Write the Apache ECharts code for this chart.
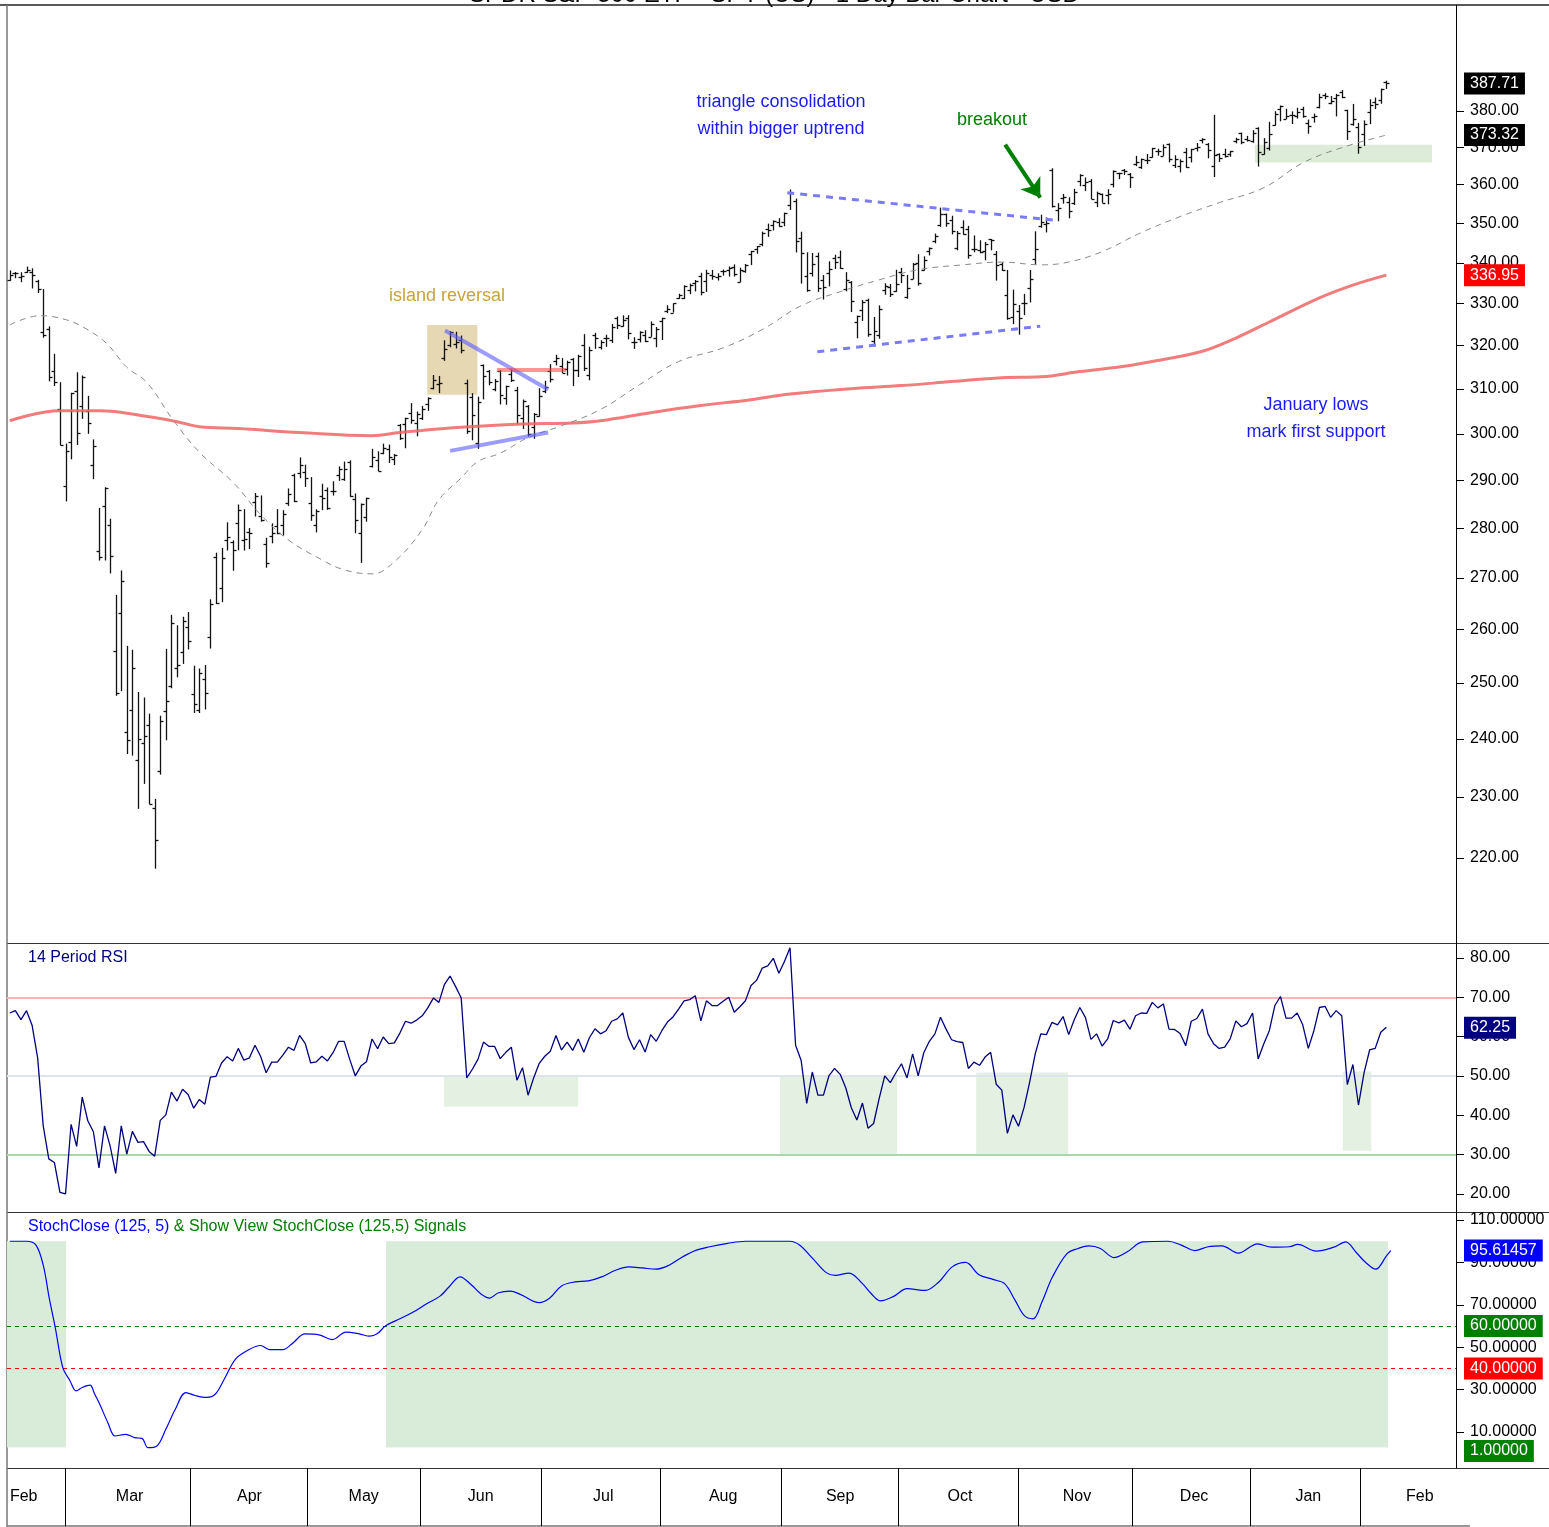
<!DOCTYPE html>
<html>
<head>
<meta charset="utf-8">
<title>SPY 1 Day Bar Chart</title>
<script src="https://cdn.jsdelivr.net/npm/echarts@6/dist/echarts.min.js"></script>
<style>
  html, body { margin: 0; padding: 0; background: #fff; }
  #main { width: 1549px; height: 1527px; }
</style>
</head>
<body>
<div id="main"></div>
<script>
/* daily bars, [open, high, low, close] */
var feb20 = [
  [335.86, 338.12, 335.56, 337.06], [337.51, 337.73, 336.20, 337.60], [336.51, 337.67, 335.21, 336.73],
  [337.79, 339.08, 337.48, 338.34], [337.74, 338.64, 333.68, 336.95], [335.47, 335.81, 332.58, 333.48],
  [323.14, 333.56, 321.87, 322.42], [323.94, 324.56, 311.75, 312.65], [314.18, 318.11, 310.70, 311.50],
  [305.46, 311.56, 297.51, 297.51], [288.70, 297.89, 285.54, 296.26]
];
var mar20 = [
  [298.21, 309.16, 294.46, 309.09], [309.50, 313.84, 297.57, 300.24], [306.12, 313.10, 303.33, 312.86],
  [304.98, 308.47, 300.01, 302.46], [293.15, 298.80, 290.23, 297.46], [275.30, 284.19, 273.45, 274.23],
  [284.64, 288.52, 273.46, 288.42], [280.70, 281.94, 270.88, 274.36], [255.94, 266.66, 247.68, 248.11],
  [263.09, 271.48, 248.52, 269.32], [241.18, 256.90, 237.36, 239.85], [245.04, 256.17, 237.07, 252.80],
  [236.25, 248.37, 228.02, 240.00], [239.25, 247.38, 232.22, 240.51], [242.53, 244.47, 228.80, 228.80],
  [228.19, 229.68, 218.26, 222.95], [234.42, 244.10, 233.80, 243.15], [244.87, 256.35, 239.75, 246.79],
  [249.52, 262.80, 249.05, 261.20], [252.75, 260.81, 251.05, 253.42], [255.70, 262.43, 253.53, 261.65],
  [260.56, 263.33, 256.22, 257.75]
];
var apr20 = [
  [247.98, 253.20, 244.59, 246.15], [245.19, 252.68, 244.59, 251.83], [250.76, 253.32, 245.22, 248.19],
  [258.50, 265.80, 256.40, 264.86], [274.21, 275.03, 264.89, 265.13], [267.96, 276.00, 265.25, 274.03],
  [277.58, 281.20, 275.47, 278.20], [277.14, 277.51, 271.41, 275.66], [280.98, 284.90, 275.51, 283.79],
  [277.57, 283.94, 275.46, 277.76], [279.15, 280.03, 275.76, 279.10], [285.38, 287.30, 282.40, 286.64],
  [282.61, 286.79, 281.35, 281.59], [276.73, 278.04, 272.02, 273.04], [278.35, 281.00, 276.91, 279.10],
  [280.49, 283.94, 278.75, 279.08], [280.73, 283.70, 278.50, 282.97], [285.12, 288.27, 284.62, 287.05],
  [291.02, 291.40, 285.40, 285.73], [291.53, 294.88, 290.41, 293.21], [291.71, 293.32, 288.59, 290.48]
];
var may20 = [
  [285.31, 290.66, 281.52, 282.79], [280.74, 283.90, 279.13, 283.57], [286.64, 289.25, 283.71, 286.19],
  [288.04, 288.46, 283.78, 284.25], [287.75, 289.78, 286.76, 287.68], [291.09, 292.95, 289.86, 292.44],
  [290.34, 294.00, 289.88, 292.50], [293.79, 294.24, 286.52, 286.67], [286.06, 287.19, 278.97, 281.60],
  [278.95, 285.11, 272.99, 285.00], [282.37, 286.33, 281.34, 286.28], [293.05, 296.75, 292.70, 295.00],
  [294.35, 296.21, 291.95, 291.97], [295.82, 297.87, 295.57, 296.93], [296.79, 297.67, 293.69, 294.88],
  [294.57, 295.63, 293.23, 295.44], [301.93, 302.19, 298.69, 299.08], [302.12, 303.57, 296.87, 303.53],
  [304.65, 306.84, 302.24, 302.97], [302.46, 304.96, 299.47, 304.32]
];
var jun20 = [
  [303.62, 306.21, 303.06, 305.55], [306.55, 308.13, 305.10, 308.08], [310.24, 313.22, 309.94, 312.18],
  [311.11, 313.00, 309.08, 311.36], [317.23, 321.27, 316.47, 319.34], [320.22, 323.41, 319.63, 323.20],
  [320.30, 323.28, 319.36, 320.79], [321.42, 322.39, 318.22, 319.00], [311.46, 312.15, 300.01, 300.61],
  [308.24, 309.08, 298.60, 304.21], [298.02, 308.28, 296.74, 307.05], [315.48, 315.64, 307.67, 312.96],
  [314.07, 314.39, 310.86, 311.66], [310.01, 312.30, 309.51, 311.78], [314.17, 314.38, 306.53, 308.64],
  [307.99, 310.79, 306.46, 310.62], [313.49, 314.50, 311.61, 312.05], [309.84, 310.51, 302.10, 304.09],
  [303.47, 307.64, 301.09, 307.35], [306.16, 306.39, 299.42, 300.05], [301.41, 304.61, 298.93, 304.46],
  [303.99, 310.20, 303.82, 308.36]
];
var jul20 = [
  [309.57, 311.89, 309.07, 310.52], [314.24, 315.70, 311.51, 312.23], [316.37, 317.88, 315.42, 317.05],
  [315.38, 317.10, 313.67, 313.78], [314.61, 316.50, 313.09, 316.18], [316.84, 317.10, 310.68, 314.38],
  [314.31, 317.88, 312.76, 317.59], [320.13, 322.71, 314.13, 314.84], [313.30, 319.76, 312.00, 318.92],
  [322.41, 323.04, 319.27, 321.85], [319.79, 321.28, 319.09, 320.79], [321.88, 322.57, 319.74, 321.72],
  [321.43, 325.13, 320.62, 324.32], [326.45, 326.93, 323.94, 324.84], [324.62, 327.20, 324.50, 326.04],
  [326.47, 327.23, 321.48, 322.96], [320.95, 321.99, 319.25, 320.88], [321.63, 323.41, 320.77, 323.22],
  [322.43, 323.64, 320.85, 321.17], [322.12, 325.73, 322.08, 325.12], [321.90, 324.41, 319.64, 323.96],
  [325.90, 326.63, 321.33, 326.52]
];
var aug20 = [
  [328.32, 329.62, 327.73, 328.79], [327.86, 330.06, 327.86, 330.06], [331.47, 332.39, 331.18, 332.11],
  [331.48, 334.46, 331.13, 334.33], [333.28, 334.88, 332.30, 334.57], [335.06, 335.77, 332.96, 335.57],
  [336.85, 337.54, 332.01, 332.80], [335.44, 338.28, 332.84, 337.44], [336.92, 338.25, 335.83, 336.83],
  [336.41, 337.42, 335.62, 336.84], [337.94, 338.34, 336.85, 337.91], [338.34, 339.10, 336.61, 338.64],
  [339.05, 339.61, 336.62, 337.23], [335.36, 338.80, 335.22, 338.28], [337.92, 339.72, 337.55, 339.48],
  [342.12, 343.00, 339.45, 342.92], [343.53, 344.21, 342.27, 344.12], [344.76, 347.86, 344.17, 347.57],
  [348.51, 349.90, 346.53, 348.33], [349.44, 350.72, 348.15, 350.58], [350.35, 351.30, 349.06, 349.31]
];
var sep20 = [
  [350.35, 352.71, 349.24, 352.60], [354.67, 358.75, 353.43, 357.70], [355.87, 356.38, 342.59, 345.39],
  [346.13, 347.83, 334.87, 342.57], [336.71, 342.64, 332.88, 333.21], [337.55, 342.46, 336.61, 339.79],
  [341.82, 342.53, 332.85, 333.89], [335.82, 336.97, 331.00, 334.06], [337.49, 340.38, 334.22, 338.46],
  [341.12, 342.02, 338.47, 340.17], [341.51, 343.06, 338.52, 338.82], [333.56, 337.70, 332.99, 335.84],
  [335.37, 335.49, 327.97, 330.65], [325.70, 327.13, 321.73, 326.97], [328.57, 330.90, 325.86, 330.30],
  [330.90, 331.20, 322.10, 322.64], [321.22, 326.80, 319.80, 323.50], [322.58, 329.58, 321.64, 328.73],
  [333.22, 334.96, 332.15, 334.19], [333.97, 334.77, 331.62, 332.37], [333.09, 338.29, 332.88, 334.89]
];
var oct20 = [
  [337.69, 338.74, 335.01, 337.04], [331.70, 337.02, 331.19, 333.84], [336.06, 339.96, 336.01, 339.76],
  [339.91, 342.17, 334.38, 334.93], [338.12, 341.63, 338.09, 340.76], [342.85, 343.85, 341.86, 343.78],
  [345.56, 347.35, 344.89, 346.85], [349.59, 354.02, 349.06, 352.43], [352.28, 352.47, 349.09, 350.13],
  [350.75, 351.93, 347.14, 347.93], [343.71, 348.02, 343.13, 347.50], [348.96, 350.75, 347.10, 347.29],
  [348.65, 349.33, 341.04, 342.01], [343.46, 346.88, 342.64, 343.38], [343.33, 345.67, 342.40, 342.73],
  [342.96, 345.24, 340.65, 344.61], [345.93, 345.99, 343.13, 345.78], [342.13, 342.98, 335.62, 339.39],
  [339.76, 340.12, 337.99, 338.22], [332.10, 338.25, 326.13, 326.66], [326.91, 333.40, 325.09, 329.98],
  [328.28, 329.69, 322.60, 326.54]
];
var nov20 = [
  [330.20, 332.36, 327.24, 330.20], [333.69, 338.25, 330.29, 336.03], [340.86, 347.94, 339.59, 343.54],
  [349.24, 352.19, 348.86, 350.24], [349.93, 351.51, 347.65, 350.16], [363.97, 364.38, 354.06, 354.56],
  [353.49, 355.18, 350.51, 354.04], [356.40, 357.56, 355.06, 356.67], [355.58, 356.72, 351.26, 353.21],
  [355.27, 358.90, 354.71, 358.10], [360.98, 362.78, 359.59, 362.57], [359.97, 361.92, 358.34, 360.62],
  [360.91, 361.50, 356.24, 356.28], [355.60, 358.18, 354.15, 357.78], [357.50, 357.72, 355.25, 355.33],
  [357.28, 358.82, 354.87, 357.46], [360.21, 363.81, 359.29, 363.67], [363.13, 363.16, 361.48, 363.22],
  [363.84, 364.18, 362.58, 363.67], [362.83, 363.12, 359.17, 362.06]
];
var dec20 = [
  [365.57, 367.68, 364.93, 366.02], [364.82, 366.96, 364.20, 366.79], [366.68, 368.19, 365.50, 366.69],
  [367.32, 369.85, 367.22, 369.85], [369.02, 369.62, 367.72, 369.09], [367.72, 370.78, 367.67, 370.17],
  [370.88, 371.05, 365.95, 366.85], [365.37, 367.86, 364.43, 366.73], [364.90, 366.74, 363.26, 366.30],
  [368.64, 369.80, 364.47, 364.66], [367.40, 369.59, 365.92, 369.59], [369.82, 371.16, 368.87, 370.17],
  [371.94, 372.46, 371.05, 372.24], [370.97, 371.15, 367.02, 369.18], [364.97, 378.90, 362.03, 367.86],
  [368.21, 368.33, 366.03, 367.24], [368.28, 369.62, 367.22, 367.57], [368.08, 369.03, 367.45, 369.00],
  [371.74, 372.59, 371.07, 372.17], [373.81, 374.00, 370.83, 371.46], [372.34, 373.10, 371.57, 371.99],
  [371.78, 374.66, 371.23, 373.88]
];
var jan21 = [
  [375.31, 375.45, 364.82, 368.79], [368.10, 372.50, 368.05, 371.33], [369.71, 376.98, 369.12, 373.55],
  [376.10, 379.90, 375.91, 379.10], [380.59, 381.49, 377.10, 381.26], [377.85, 380.58, 377.72, 378.69],
  [378.89, 379.86, 376.36, 378.77], [378.69, 380.86, 377.85, 379.79], [380.59, 381.13, 378.10, 378.46],
  [376.72, 377.58, 373.70, 375.70], [378.34, 379.23, 376.75, 378.65], [381.11, 384.79, 380.69, 383.89],
  [384.49, 384.95, 383.25, 384.24], [382.25, 384.13, 381.84, 382.88], [383.67, 384.77, 378.46, 384.39],
  [385.41, 385.85, 383.54, 383.79], [380.22, 380.32, 372.01, 374.41], [376.36, 381.93, 375.89, 377.63],
  [375.63, 376.67, 368.27, 370.07]
];
var feb21 = [
  [373.72, 377.34, 370.38, 376.23], [379.65, 383.22, 376.32, 381.55], [382.44, 383.70, 380.48, 381.85],
  [382.96, 386.24, 381.97, 386.19], [388.20, 388.47, 386.14, 387.71]
];

/* moving averages, [bar index, value] */
var ma200 = [
  [0, 302.9], [9, 305.1], [16, 305.1], [25, 303.8], [30, 302.7], [34, 301.6], [41, 301.2], [52, 300.3],
  [65, 299.6], [70, 300.3], [79, 301.3], [92, 302.2], [101, 302.4], [106, 302.9], [115, 304.7], [124, 306.3],
  [133, 307.6], [140, 308.9], [151, 310.1], [160, 310.8], [169, 311.7], [178, 312.6], [185, 312.8],
  [192, 314.0], [200, 315.2], [207, 316.8], [214, 318.7], [220, 321.8], [226, 325.6], [235, 331.4],
  [241, 334.5], [247, 336.95]
];
var ma50 = [
  [0, 324.9], [5.4, 327.1], [10.2, 326.1], [13.8, 323.9], [17.4, 320.5], [21, 315.0], [24.6, 311.5],
  [29.3, 303.1], [34.1, 295.9], [40.1, 289.5], [45, 282.8], [50, 277.6], [56, 273.6], [60, 271.6],
  [65, 270.8], [69, 273.2], [74, 279.7], [77, 285.9], [81, 290.5], [84, 294.0], [88, 295.8], [93, 299.2],
  [99, 301.8], [106, 305.4], [113, 311.0], [120, 316.3], [128, 319.5], [135, 323.8], [142, 329.5],
  [149, 332.9], [156, 335.8], [163, 338.3], [171, 339.5], [178, 340.2], [185, 339.5], [190, 340.2],
  [196, 342.8], [203, 347.6], [210, 351.7], [217, 355.3], [225, 359.2], [232, 365.8], [239, 369.9],
  [247, 373.32]
];

/* 14 period RSI, one value per bar */
var rsiValues = [
  66.0, 66.6, 64.3, 66.6, 62.9, 54.6, 37.3, 28.9, 28.0, 20.4, 20.0, 37.7, 32.1, 44.6, 38.6, 35.8, 26.6, 37.3,
  32.2, 25.2, 37.3, 30.1, 35.9, 33.1, 33.3, 30.8, 29.6, 38.7, 40.1, 45.9, 43.6, 46.6, 45.3, 41.8, 44.0, 42.8,
  49.7, 49.9, 53.3, 54.9, 53.8, 57.0, 54.0, 54.6, 57.8, 55.0, 50.8, 53.5, 53.5, 55.3, 57.3, 56.5, 60.3, 58.3,
  53.3, 53.6, 55.0, 53.8, 55.9, 58.8, 58.8, 54.2, 50.0, 52.5, 53.6, 59.4, 56.9, 59.9, 58.2, 58.4, 60.9, 63.9,
  63.4, 64.2, 65.3, 67.3, 69.8, 68.7, 73.3, 75.4, 72.7, 69.8, 49.5, 51.7,
  54.2, 58.6, 57.5, 57.5, 54.4, 56.0, 57.3, 48.9, 52.1, 45.1, 49.5, 53.2, 55.0, 56.3, 60.3, 56.6, 58.6, 56.5,
  59.4, 56.0, 59.7, 62.0, 60.7, 61.5, 63.9, 64.5, 66.0, 59.8, 56.7, 59.2, 56.1, 60.5, 58.8, 61.5, 63.7, 65.0,
  67.0, 69.1, 69.4, 70.4, 64.0, 69.1, 67.9, 67.9, 69.0, 70.0, 66.2, 67.6, 69.1, 73.0, 74.3, 77.4, 78.0, 79.9,
  76.1, 79.1, 82.6, 57.8, 53.9, 43.0, 51.0, 45.1, 45.1, 50.1, 51.9, 50.4, 47.0, 41.9, 38.8, 43.1, 36.7, 37.9,
  44.3, 50.0, 48.3, 50.8, 53.1, 49.5, 55.6, 50.0, 55.9, 58.8,
  60.7, 64.9, 61.9, 59.2, 58.7, 58.5, 51.9, 53.5, 52.7, 54.8, 56.0, 47.9, 46.4, 35.4, 40.1, 37.2, 42.0, 48.4,
  55.6, 60.7, 60.5, 63.6, 63.0, 65.1, 60.5, 64.3, 67.4, 64.9, 59.3, 60.7, 57.6, 59.4, 64.1, 63.5, 64.2, 61.9,
  65.3, 66.0, 65.9, 68.7, 67.3, 68.3, 61.9, 61.8, 60.8, 57.7, 63.9, 64.6, 67.0, 60.7, 58.2, 57.0, 57.3, 59.5,
  64.0, 62.5, 63.3, 66.0, 54.3, 58.1, 61.5, 67.9, 70.2, 64.7, 64.7, 66.0, 63.0, 57.0, 61.5, 67.4, 67.7, 64.9,
  66.6, 65.3, 47.8, 52.9, 42.6, 50.8, 56.6, 57.0, 61.1, 62.4
];

/* StochClose (125,5), [bar index, value] */
var stochPoints = [
  [0, 100], [3, 100], [4.7, 98.2], [6, 88.7], [7.1, 72.9], [8.2, 58.7], [9.5, 40.5], [10.8, 34.2],
  [11.9, 29.4], [13, 31.0], [14.4, 32.1], [15.2, 28.0], [16, 23.9], [17.6, 14.4], [18.9, 8.1], [20.8, 8.9],
  [22.4, 7.3], [23.7, 7.0], [24.8, 2.6], [26.4, 3.4], [28, 11.3], [29.7, 20.7], [31.6, 28.6], [33.4, 27.1],
  [35.3, 26.3], [36.9, 27.9], [38.5, 35.0], [40.5, 44.4], [42.6, 48.4], [45, 50.8], [46.6, 48.9], [49, 48.9],
  [50.6, 51.5], [53, 56.3], [55.5, 55.8], [57.9, 53.6], [60.3, 57.1], [62.7, 56.3], [64.6, 55.2], [65.9, 56.3],
  [67.5, 60.2], [70, 63.4], [72.4, 66.6], [74.8, 70.5], [77.2, 74.1], [78.8, 78.4], [80.8, 83.2], [82.9, 79.2],
  [84.5, 75.2], [86.1, 73.2], [87.7, 75.7], [89.8, 76.5], [91.7, 74.8], [95, 71.0], [96.9, 73.2], [99, 78.9],
  [101.4, 80.8], [103.8, 81.3], [106.2, 83.2], [108.7, 86.3], [111.1, 87.9], [113.5, 87.4], [115.9, 86.8],
  [118.3, 88.7], [120.7, 92.6], [123.2, 95.8], [125.6, 97.4], [128.8, 99.0], [132, 100], [140, 100],
  [141.7, 98.2], [144.1, 91.8], [146.5, 85.2], [148.1, 83.9], [150.6, 85.0], [153, 80.0], [154.6, 75.2],
  [156.2, 71.9], [158.6, 74.0], [161, 77.6], [164.3, 76.8], [166.7, 80.8], [169.1, 87.9], [171.5, 90.0],
  [173.9, 84.2], [176.4, 82.0], [178.5, 80.0], [180.4, 72.1], [182, 65.0], [183.6, 63.4], [185.2, 71.3],
  [187.1, 83.2], [189.7, 94.2], [191.7, 96.6], [193.6, 97.8], [195.7, 96.6], [198.1, 92.3], [200.5, 95.0],
  [203.3, 99.7], [207.8, 100], [210.2, 98.2], [212.6, 95.6], [215, 97.4], [217.5, 97.8], [220.4, 94.4],
  [223.9, 98.8], [226.4, 97.2], [229.6, 97.4], [231.1, 98.5], [234.4, 95.3], [237.6, 97.2], [239.7, 99.7],
  [241.6, 94.7], [243.2, 90.2], [245.1, 86.8], [247, 93.0], [247.8, 95.61457]
];

/* axis ticks and month labels */
var priceTicks = [220, 230, 240, 250, 260, 270, 280, 290, 300, 310, 320, 330, 340, 350, 360, 370, 380];
var rsiTicks = [20, 30, 40, 50, 60, 70, 80];
var stochTicks = [10, 30, 50, 70, 90, 110];
var monthNames = ['Feb', 'Mar', 'Apr', 'May', 'Jun', 'Jul', 'Aug', 'Sep', 'Oct', 'Nov', 'Dec', 'Jan', 'Feb'];
var monthLabelPos = [2.5, 21.5, 43, 63.5, 84.5, 106.5, 128, 149, 170.5, 191.5, 212.5, 233, 253];
var monthEdges = [9.9, 32.3, 53.3, 73.6, 95.3, 116.7, 138.4, 159.4, 180.9, 201.4, 222.5, 242.3];

/* drawn annotations, [bar index, value] */
var islandBox = [[74.9, 324.9], [83.9, 308.7]];
var janSupportBox = [[223.4, 370.7], [255.2, 365.9]];
var fallingLine = [[78.1, 323.6], [96.6, 309.9]];
var risingLine = [[79.0, 296.3], [96.6, 300.3]];
var resistLine = [[87.4, 314.5], [99.8, 314.5]];
var triTop = [[139.5, 357.9], [187.9, 350.7]];
var triBottom = [[144.9, 318.6], [184.9, 324.6]];
var breakoutArrow = [[178.6, 370.7], [184.9, 356.6]];
var rsiZones = [[77.9, 49.8, 102.0, 42.2], [138.2, 50.0, 159.2, 30.0], [173.4, 50.9, 189.9, 30.0], [239.2, 51.1, 244.3, 31.0]];
var stochZones = [[-0.5, 100, 10.1, 2.7], [67.5, 100, 247.3, 2.7]];

var fontFam = '"Liberation Sans", Arial, Helvetica, sans-serif';
var bars = [].concat(feb20, mar20, apr20, may20, jun20, jul20, aug20, sep20, oct20, nov20, dec20, jan21, feb21);
var ohlcData = bars.map(function (b, i) { return [i, b[0], b[1], b[2], b[3]]; });
var rsiData = rsiValues.map(function (v, i) { return [i, v]; });

function renderBar(params, api) {
  var i = api.value(0);
  var op = api.coord([i, api.value(1)]);
  var hi = api.coord([i, api.value(2)]);
  var lo = api.coord([i, api.value(3)]);
  var cl = api.coord([i, api.value(4)]);
  var x = Math.round(hi[0]) + 0.5;
  function st() { return { stroke: '#111', lineWidth: 1.3 }; }
  return {
    type: 'group',
    children: [
      { type: 'line', shape: { x1: x, y1: hi[1], x2: x, y2: lo[1] }, style: st() },
      { type: 'line', shape: { x1: x - 3, y1: Math.round(op[1]) + 0.5, x2: x, y2: Math.round(op[1]) + 0.5 }, style: st() },
      { type: 'line', shape: { x1: x, y1: Math.round(cl[1]) + 0.5, x2: x + 3, y2: Math.round(cl[1]) + 0.5 }, style: st() }
    ]
  };
}

function boxLabel(text, bg) {
  return {
    show: true, position: 'end', distance: 8, formatter: text, color: '#fff',
    backgroundColor: bg, padding: [3, 6, 3, 6], fontSize: 16, fontFamily: fontFam
  };
}
function hidden() { return { color: 'rgba(0,0,0,0)', width: 0.1 }; }
function segment(pts, style) {
  return [{ coord: pts[0], lineStyle: style }, { coord: pts[1] }];
}
function area(b, color) {
  return [{ xAxis: b[0], yAxis: b[1], itemStyle: { color: color } }, { xAxis: b[2], yAxis: b[3] }];
}

function rightAxis(grid, type, min, max, ticks, digits) {
  return {
    type: type, gridIndex: grid, position: 'right', min: min, max: max,
    axisLine: { show: true, onZero: false, lineStyle: { color: '#000', width: 1 } },
    axisTick: { show: true, length: 8, lineStyle: { color: '#000' }, customValues: ticks },
    axisLabel: {
      customValues: ticks, margin: 14, fontSize: 16, color: '#000', fontFamily: fontFam,
      formatter: function (v) { return Number(v).toFixed(digits); }
    },
    splitLine: { show: false }, minorTick: { show: false }
  };
}
function hiddenX(grid) {
  return { type: 'value', gridIndex: grid, min: -0.5, max: 259.5, show: false, axisLine: { onZero: false } };
}

var chartDom = document.getElementById('main');
var myChart = echarts.init(chartDom);

var option = {
  animation: false,
  backgroundColor: '#fff',
  grid: [
    { left: 7, right: 93, top: 5, height: 938 },
    { left: 7, right: 93, top: 943, height: 269 },
    { left: 7, right: 93, top: 1212, height: 256 },
    { left: 7, right: 93, top: 1468, height: 58 }
  ],
  xAxis: [
    hiddenX(0), hiddenX(1), hiddenX(2),
    {
      type: 'value', gridIndex: 3, min: -0.5, max: 259.5, position: 'top',
      axisLine: { show: false, onZero: false }, axisTick: { show: false }, splitLine: { show: false },
      axisLabel: {
        inside: true, margin: 21, fontSize: 16, color: '#000', fontFamily: fontFam,
        customValues: monthLabelPos,
        formatter: function (v) { return monthNames[monthLabelPos.indexOf(v)]; }
      }
    }
  ],
  yAxis: [
    rightAxis(0, 'log', 206.7, 410.6, priceTicks, 2),
    rightAxis(1, 'value', 15.4, 83.8, rsiTicks, 2),
    rightAxis(2, 'value', -7, 113.8, stochTicks, 5),
    { type: 'value', gridIndex: 3, min: 0, max: 1, show: false, axisLine: { onZero: false } }
  ],
  series: [
    {
      type: 'custom', name: 'SPY', xAxisIndex: 0, yAxisIndex: 0, z: 3,
      renderItem: renderBar, data: ohlcData,
      encode: { x: 0, y: [1, 2, 3, 4] }
    },
    {
      type: 'line', name: '200 MA', xAxisIndex: 0, yAxisIndex: 0, data: ma200,
      smooth: 0.4, showSymbol: false, silent: true,
      lineStyle: { color: 'rgba(240,100,100,0.85)', width: 3 }
    },
    {
      type: 'line', name: '50 MA', xAxisIndex: 0, yAxisIndex: 0, data: ma50,
      smooth: 0.4, showSymbol: false, silent: true,
      lineStyle: { color: '#8a8a8a', width: 1, type: [6, 5] }
    },
    {
      type: 'line', name: 'notes', xAxisIndex: 0, yAxisIndex: 0, data: [], silent: true,
      markArea: {
        silent: true, label: { show: false },
        data: [
          [{ coord: islandBox[0], itemStyle: { color: '#e7d8b4' } }, { coord: islandBox[1] }],
          [{ coord: janSupportBox[0], itemStyle: { color: '#dcecd8' } }, { coord: janSupportBox[1] }]
        ]
      },
      markLine: {
        silent: true, symbol: ['none', 'none'], label: { show: false },
        data: [
          segment(fallingLine, { color: 'rgba(90,90,255,0.6)', width: 4, type: 'solid' }),
          segment(risingLine, { color: 'rgba(90,90,255,0.6)', width: 4, type: 'solid' }),
          segment(resistLine, { color: 'rgba(255,60,60,0.55)', width: 4, type: 'solid' }),
          segment(triTop, { color: '#7b7bf6', width: 3, type: [7, 6] }),
          segment(triBottom, { color: '#7b7bf6', width: 3, type: [7, 6] })
        ]
      }
    },
    {
      type: 'line', name: 'arrow', xAxisIndex: 0, yAxisIndex: 0, data: [], silent: true,
      markLine: {
        silent: true, symbol: ['none', 'arrow'], symbolSize: 18, label: { show: false },
        data: [segment(breakoutArrow, { color: '#008000', width: 4, type: 'solid' })]
      }
    },
    {
      type: 'line', name: 'last', xAxisIndex: 0, yAxisIndex: 0, data: [], silent: true,
      markLine: {
        silent: true, symbol: ['none', 'none'],
        data: [
          { yAxis: 387.71, lineStyle: hidden(), label: boxLabel('387.71', '#000') },
          { yAxis: 373.32, lineStyle: hidden(), label: boxLabel('373.32', '#000') },
          { yAxis: 336.95, lineStyle: hidden(), label: boxLabel('336.95', '#ff0000') }
        ]
      }
    },
    {
      type: 'line', name: 'RSI', xAxisIndex: 1, yAxisIndex: 1, data: rsiData,
      showSymbol: false, silent: true, z: 3,
      lineStyle: { color: '#00007f', width: 1.3 },
      markArea: {
        silent: true, z: 1, label: { show: false },
        data: rsiZones.map(function (b) { return area(b, '#e4f0e2'); })
      },
      markLine: {
        silent: true, z: 1.5, symbol: ['none', 'none'], label: { show: false },
        data: [
          { yAxis: 70, lineStyle: { color: '#ffb4b4', width: 2, type: 'solid' } },
          { yAxis: 50, lineStyle: { color: '#dee4eb', width: 2, type: 'solid' } },
          { yAxis: 30, lineStyle: { color: '#a9d7a9', width: 2, type: 'solid' } },
          { yAxis: 62.25, lineStyle: hidden(), label: boxLabel('62.25', '#000080') }
        ]
      }
    },
    {
      type: 'line', name: 'StochClose', xAxisIndex: 2, yAxisIndex: 2, data: stochPoints,
      smooth: 0.35, showSymbol: false, silent: true, z: 3,
      lineStyle: { color: '#0000ff', width: 1.2 },
      markArea: {
        silent: true, z: 1, label: { show: false },
        data: stochZones.map(function (b) { return area(b, '#d9ecd9'); })
      },
      markLine: {
        silent: true, z: 1.5, symbol: ['none', 'none'], label: { show: false },
        data: [
          { yAxis: 60, lineStyle: { color: '#008000', width: 1, type: [4, 4] }, label: boxLabel('60.00000', '#008000') },
          { yAxis: 40, lineStyle: { color: '#ff0000', width: 1, type: [4, 4] }, label: boxLabel('40.00000', '#ff0000') },
          { yAxis: 95.61457, lineStyle: hidden(), label: boxLabel('95.61457', '#0000ff') },
          { yAxis: 1, lineStyle: hidden(), label: boxLabel('1.00000', '#008000') }
        ]
      }
    },
    {
      type: 'line', name: 'months', xAxisIndex: 3, yAxisIndex: 3, data: [], silent: true,
      markLine: {
        silent: true, symbol: ['none', 'none'], label: { show: false },
        lineStyle: { color: '#000', width: 1, type: 'solid' },
        data: monthEdges.map(function (v) { return { xAxis: v }; })
      }
    }
  ],
  graphic: [
    { type: 'text', left: 'center', top: -17, style: { text: 'SPDR S&P 500 ETF - SPY (US) - 1 Day Bar Chart - USD', font: '24px ' + fontFam, fill: '#000' } },
    { type: 'line', shape: { x1: 0, y1: 5, x2: 1549, y2: 5 }, style: { stroke: '#222', lineWidth: 1.5 } },
    { type: 'line', shape: { x1: 7, y1: 943.5, x2: 1549, y2: 943.5 }, style: { stroke: '#333', lineWidth: 1.2 } },
    { type: 'line', shape: { x1: 7, y1: 1212.5, x2: 1549, y2: 1212.5 }, style: { stroke: '#333', lineWidth: 1.2 } },
    { type: 'line', shape: { x1: 7, y1: 1468.5, x2: 1549, y2: 1468.5 }, style: { stroke: '#333', lineWidth: 1.2 } },
    { type: 'line', shape: { x1: 7, y1: 1526, x2: 1470, y2: 1526 }, style: { stroke: '#999', lineWidth: 2 } },
    { type: 'line', shape: { x1: 7, y1: 5, x2: 7, y2: 1527 }, style: { stroke: '#777', lineWidth: 1.5 } },
    { type: 'text', x: 447, y: 296, style: { text: 'island reversal', font: '18px ' + fontFam, fill: '#c9a33d', align: 'center', verticalAlign: 'middle' } },
    { type: 'text', x: 781, y: 102, style: { text: 'triangle consolidation', font: '18px ' + fontFam, fill: '#1c1cf0', align: 'center', verticalAlign: 'middle' } },
    { type: 'text', x: 781, y: 129, style: { text: 'within bigger uptrend', font: '18px ' + fontFam, fill: '#1c1cf0', align: 'center', verticalAlign: 'middle' } },
    { type: 'text', x: 992, y: 120, style: { text: 'breakout', font: '18px ' + fontFam, fill: '#008000', align: 'center', verticalAlign: 'middle' } },
    { type: 'text', x: 1316, y: 405, style: { text: 'January lows', font: '18px ' + fontFam, fill: '#1c1cf0', align: 'center', verticalAlign: 'middle' } },
    { type: 'text', x: 1316, y: 432, style: { text: 'mark first support', font: '18px ' + fontFam, fill: '#1c1cf0', align: 'center', verticalAlign: 'middle' } },
    { type: 'text', x: 28, y: 958, style: { text: '14 Period RSI', font: '16px ' + fontFam, fill: '#000080', verticalAlign: 'middle' } },
    {
      type: 'text', x: 28, y: 1227,
      style: {
        text: '{a|StochClose (125, 5)}{b| & Show View StochClose (125,5) Signals}',
        verticalAlign: 'middle', font: '16px ' + fontFam,
        rich: { a: { fill: '#0000ff', font: '16px ' + fontFam }, b: { fill: '#008000', font: '16px ' + fontFam } }
      }
    }
  ]
};

option && myChart.setOption(option);

window.onresize = function () {
  myChart.resize();
};
</script>
</body>
</html>
